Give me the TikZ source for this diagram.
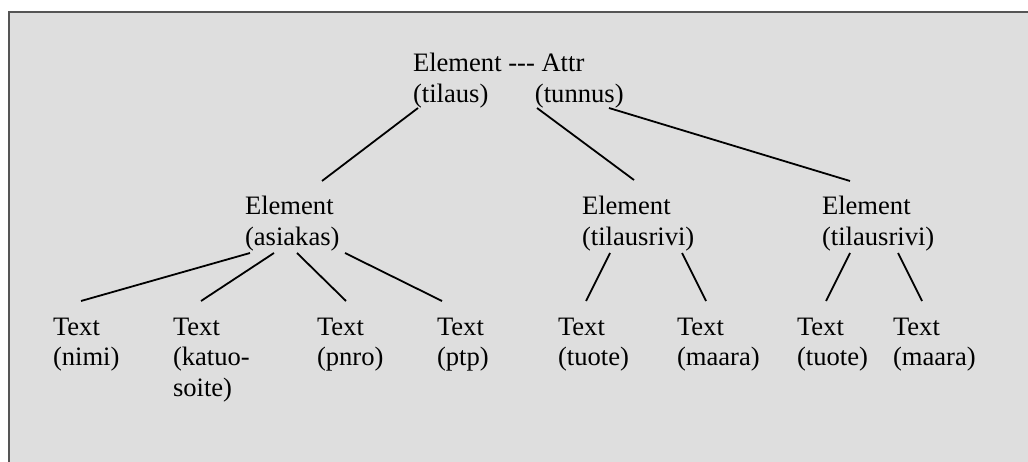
\documentclass[tikz,border=0pt]{standalone}
\usepackage{fontspec}
\setmainfont{Liberation Serif}
\usetikzlibrary{calc}
\newcommand\lbtwo[2]{\begin{tabular}[t]{@{}l@{}}#1\\#2\end{tabular}}
\newcommand\lbthree[3]{\begin{tabular}[t]{@{}l@{}}#1\\#2\\#3\end{tabular}}
\begin{document}
\begin{tikzpicture}[x=1pt,y=-1pt,
  lbl/.style={anchor=base west,inner sep=0pt,outer sep=0pt,font=\fontsize{26.6}{30.8}\selectfont},
  edge/.style={line width=1.8pt,black}]
\useasboundingbox (0,0) rectangle (1028,462);
\fill[white] (0,0) rectangle (1028,462);
\fill[fill={rgb,255:red,222;green,222;blue,222}] (8.7,11.7) rectangle (1030,464);
\draw[line width=2pt,draw={rgb,255:red,85;green,85;blue,85}] (8.7,464) -- (8.7,11.7) -- (1030,11.7);
% nodes
\node[lbl] (root) at (413,72) {\lbtwo{Element -{}-{}- Attr}{\makebox[122pt][l]{(tilaus)}(tunnus)}};
\node[lbl] (asiakas) at (245,215) {\lbtwo{Element}{(asiakas)}};
\node[lbl] (tr1) at (582,215) {\lbtwo{Element}{(tilausrivi)}};
\node[lbl] (tr2) at (822,215) {\lbtwo{Element}{(tilausrivi)}};
\node[lbl] (nimi) at (53,335) {\lbtwo{Text}{(nimi)}};
\node[lbl] (katu) at (173,335) {\lbthree{Text}{(katuo-}{soite)}};
\node[lbl] (pnro) at (317,335) {\lbtwo{Text}{(pnro)}};
\node[lbl] (ptp) at (437,335) {\lbtwo{Text}{(ptp)}};
\node[lbl] (tuote1) at (558,335) {\lbtwo{Text}{(tuote)}};
\node[lbl] (maara1) at (677,335) {\lbtwo{Text}{(maara)}};
\node[lbl] (tuote2) at (797,335) {\lbtwo{Text}{(tuote)}};
\node[lbl] (maara2) at (893,335) {\lbtwo{Text}{(maara)}};
% connectors
\draw[edge] ($(root.base west)+(5,36)$) -- ($(asiakas.base west)+(77,-34)$);
\draw[edge] ($(root.base west)+(124,36)$) -- ($(tr1.base west)+(52,-35)$);
\draw[edge] ($(root.base west)+(196,36)$) -- ($(tr2.base west)+(28,-34)$);
\draw[edge] ($(asiakas.base west)+(5,38)$) -- ($(nimi.base west)+(28,-34)$);
\draw[edge] ($(asiakas.base west)+(29,38)$) -- ($(katu.base west)+(28,-34)$);
\draw[edge] ($(asiakas.base west)+(52,38)$) -- ($(pnro.base west)+(29,-34)$);
\draw[edge] ($(asiakas.base west)+(100,38)$) -- ($(ptp.base west)+(5,-34)$);
\draw[edge] ($(tr1.base west)+(28,38)$) -- ($(tuote1.base west)+(28,-34)$);
\draw[edge] ($(tr1.base west)+(100,38)$) -- ($(maara1.base west)+(29,-34)$);
\draw[edge] ($(tr2.base west)+(28,38)$) -- ($(tuote2.base west)+(29,-34)$);
\draw[edge] ($(tr2.base west)+(76,38)$) -- ($(maara2.base west)+(29,-34)$);
\end{tikzpicture}
\end{document}
